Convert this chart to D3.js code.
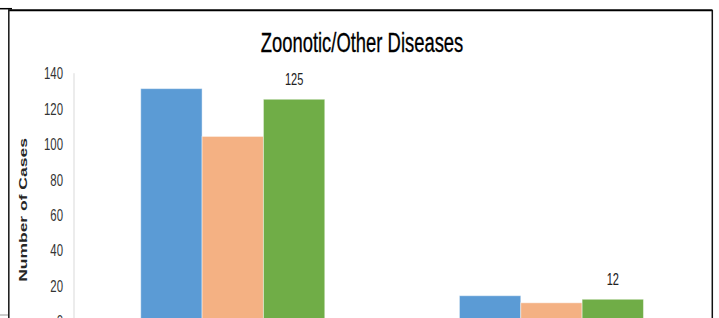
<!DOCTYPE html>
<html lang="en">

<head>
    <meta charset="utf-8">
    <title>Zoonotic/Other Diseases</title>
    <script src="https://cdn.jsdelivr.net/npm/d3@7"></script>
    <style>
        body {
            margin: 0;
            background: #fff;
        }

        text {
            font-family: "Liberation Sans", Arial, sans-serif;
        }
    </style>
</head>

<body>
    <script type="text/javascript">
        var categories = ['Category 1', 'Category 2'];
        var seriesNames = ['Series 1', 'Series 2', 'Series 3'];
        var series1 = [131, 14];
        var series2 = [104, 10];
        var series3 = [125, 12];
        var yTicks = [0, 20, 40, 60, 80, 100, 120, 140];
        var labelledSeries = 2; // only the green bars carry value labels

        var svgWidth = 719, svgHeight = 318;
        var squish = 0.67; // the picture text is squeezed horizontally
        var colors = ['#5b9bd5', '#f4b183', '#70ad47'];
        var values = [series1, series2, series3];

        var svg = d3.select('body')
            .append('svg')
            .attr('width', svgWidth)
            .attr('height', svgHeight);

        var x = d3.scaleBand()
            .domain(categories)
            .range([73.5, 710.7])
            .paddingInner(0.4225)
            .paddingOuter(0.211);

        var xSeries = d3.scaleBand()
            .domain(seriesNames)
            .range([0, x.bandwidth()]);

        var y = d3.scaleLinear()
            .domain([0, 140])
            .range([320.5, 72.7]);

        // frame pieces
        svg.append('line').attr('x1', 0).attr('x2', 12).attr('y1', 8.7).attr('y2', 8.7)
            .style('stroke', '#000').style('stroke-width', 1.5);
        svg.append('line').attr('x1', 0).attr('x2', 9).attr('y1', 315).attr('y2', 315)
            .style('stroke', '#bbb').style('stroke-width', 1.5);
        svg.append('line').attr('x1', 8).attr('x2', 712.5).attr('y1', 10.3).attr('y2', 10.3)
            .style('stroke', '#000').style('stroke-width', 2);
        svg.append('line').attr('x1', 8.8).attr('x2', 8.8).attr('y1', 10).attr('y2', svgHeight)
            .style('stroke', '#222').style('stroke-width', 1.6);
        svg.append('line').attr('x1', 712.3).attr('x2', 712.3).attr('y1', 10).attr('y2', svgHeight)
            .style('stroke', '#111').style('stroke-width', 1.5);

        // title
        svg.append('text')
            .attr('transform', 'translate(362,51.5) scale(' + squish + ',1)')
            .attr('text-anchor', 'middle')
            .style('font-size', '27.5px')
            .style('fill', '#000')
            .style('stroke', '#000')
            .style('stroke-width', 0.3)
            .text('Zoonotic/Other Diseases');

        // y axis title
        svg.append('text')
            .attr('transform', 'translate(26.5,210) scale(' + squish + ',1) rotate(-90)')
            .attr('text-anchor', 'middle')
            .style('font-size', '17.5px')
            .style('font-weight', 'bold')
            .style('fill', '#262626')
            .text('Number of Cases');

        // y axis
        var yAxis = svg.append('g')
            .attr('transform', 'translate(73.5,0)')
            .call(d3.axisLeft(y).tickValues(yTicks).tickSize(0).tickPadding(10));
        yAxis.select('.domain').style('stroke', '#d9d9d9');
        yAxis.selectAll('text')
            .attr('x', 0)
            .attr('transform', 'translate(-10.5,0) scale(' + squish + ',1)')
            .attr('dy', '0.36em')
            .style('font-family', '"Liberation Sans", Arial, sans-serif')
            .style('font-size', '17px')
            .style('fill', '#333');

        // bars
        var groups = svg.append('g').selectAll('g')
            .data(categories)
            .enter().append('g')
            .attr('transform', (d) => {
                return 'translate(' + x(d) + ',0)';
            });

        groups.selectAll('rect')
            .data((d, i) => {
                return seriesNames.map((s, j) => {
                    return { series: s, index: j, value: values[j][i] };
                });
            })
            .enter().append('rect')
            .attr('x', (d) => {
                return xSeries(d.series);
            })
            .attr('y', (d) => {
                return y(d.value);
            })
            .attr('width', xSeries.bandwidth())
            .attr('height', (d) => {
                return y(0) - y(d.value);
            })
            .style('fill', (d) => {
                return colors[d.index];
            })
            .style('stroke', 'rgba(255,255,255,0.45)')
            .style('stroke-width', 1);

        // value labels
        groups.append('text')
            .attr('transform', (d, i) => {
                var cx = xSeries(seriesNames[labelledSeries]) + xSeries.bandwidth() / 2;
                return 'translate(' + cx + ',' + (y(values[labelledSeries][i]) - 14) + ') scale(' + squish + ',1)';
            })
            .attr('text-anchor', 'middle')
            .style('font-size', '16.5px')
            .style('fill', '#222')
            .text((d, i) => {
                return values[labelledSeries][i];
            });
    </script>
</body>

</html>
